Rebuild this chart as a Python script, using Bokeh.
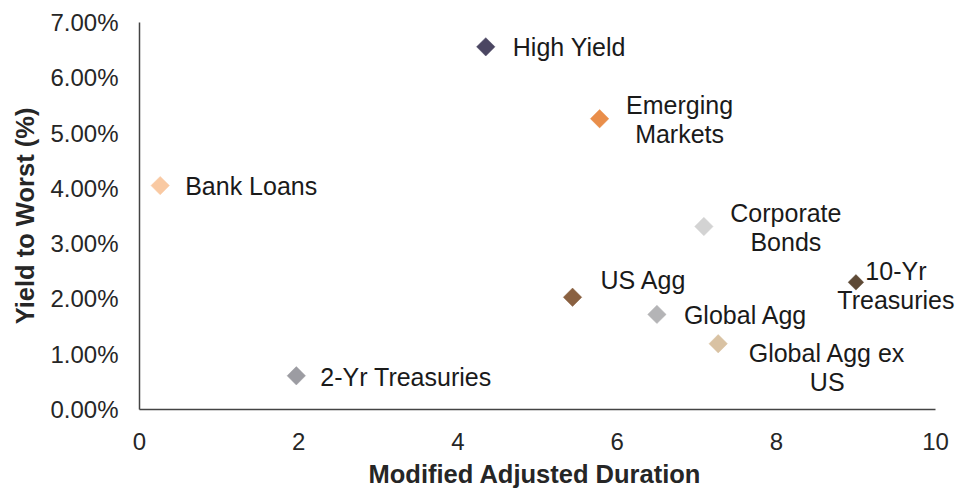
import math
from bokeh.plotting import figure
from bokeh.models import ColumnDataSource, PrintfTickFormatter, FixedTicker, Range1d, Title
from bokeh.core.properties import value
from bokeh.embed import file_html
from bokeh.resources import INLINE

names = ["High Yield", "Emerging\nMarkets", "Bank Loans", "Corporate\nBonds", "10-Yr\nTreasuries",
         "US Agg", "Global Agg", "Global Agg ex\nUS", "2-Yr Treasuries"]
duration = [4.35, 5.78, 0.26, 7.09, 9.0, 5.44, 6.5, 7.27, 1.97]
yield_pct = [6.56, 5.26, 4.05, 3.31, 2.30, 2.03, 1.72, 1.19, 0.61]
x_ticks = [0, 2, 4, 6, 8, 10]
y_ticks = [0, 1, 2, 3, 4, 5, 6, 7]

# styles
colors = ["#4b4662", "#e98e4a", "#f9c9a2", "#d3d3d3", "#5e4a36", "#8a6141", "#b4b4b6", "#d9c2a3", "#9c9ca2"]
sizes = [13, 13, 13, 13, 11, 13, 13, 13, 13]
x_off = [27, 80, 25, 82, 40, 28, 27, 109, 24]
y_off = [0, 1, 0, 1, 3, -17, 1, 24, 1]
align = ["left", "center", "left", "center", "center", "left", "left", "center", "left"]

FONT = "Liberation Sans"

src = ColumnDataSource(dict(x=duration, y=yield_pct, name=names, color=colors, size=sizes,
                            xo=x_off, yo=y_off, align=align))

p = figure(width=957, height=492, output_backend="svg", toolbar_location=None,
           x_range=Range1d(0, 10.276), y_range=Range1d(0, 7),
           min_border_left=139, min_border_right=0, min_border_top=22, min_border_bottom=83)
p.outline_line_color = None
p.xgrid.visible = False
p.ygrid.visible = False

p.scatter("x", "y", source=src, marker="square", angle=math.pi / 4, size="size",
          fill_color="color", line_color="color", line_width=0.5)
p.text("x", "y", text="name", source=src, x_offset="xo", y_offset="yo",
       text_align="align", text_baseline="middle", text_font=value(FONT),
       text_font_size="25px", text_color="#1a1a1a", text_line_height=1.05)

for ax in (p.xaxis[0], p.yaxis[0]):
    ax.axis_line_color = "#444444"
    ax.axis_line_width = 1.5
    ax.major_tick_line_color = None
    ax.minor_tick_line_color = None
    ax.major_label_text_font = FONT
    ax.major_label_text_font_size = "24px"
    ax.major_label_text_color = "#262626"
    ax.axis_label_text_font = FONT
    ax.axis_label_text_font_size = "25.5px"
    ax.axis_label_text_font_style = "bold"
    ax.axis_label_text_color = "#262626"

p.xaxis.bounds = (0, 10)
p.xaxis.ticker = FixedTicker(ticks=x_ticks)
p.yaxis.ticker = FixedTicker(ticks=y_ticks)
p.yaxis.formatter = PrintfTickFormatter(format="%.2f%%")
p.xaxis.major_label_standoff = 17
p.yaxis.major_label_standoff = 15
p.yaxis.axis_label = "Yield to Worst (%)"
p.yaxis.axis_label_standoff = 8

xtitle = Title(text="Modified Adjusted Duration", align="left", offset=229,
               text_font=FONT, text_font_size="25.5px", text_font_style="bold",
               text_color="#262626", standoff=10)
p.add_layout(xtitle, "below")

open("out.html", "w").write(file_html(p, INLINE))
